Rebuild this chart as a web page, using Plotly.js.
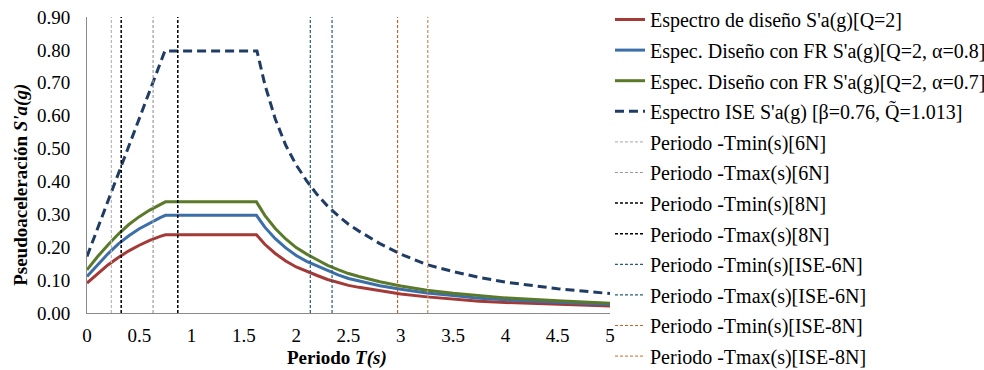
<!DOCTYPE html>
<html>
<head>
<meta charset="utf-8">
<script src="https://cdn.plot.ly/plotly-3.0.1.min.js"></script>
<style>html,body{margin:0;padding:0;background:#fff}#chart{width:984px;height:370px}</style>
</head>
<body>
<div id="chart"></div>
<script>
// Design spectra (periods in s, accelerations in g)
const T_design = [0,0.1,0.2,0.3,0.4,0.5,0.6,0.7,0.75,1.62,1.7,1.8,1.9,2.0,2.1,2.2,2.3,2.4,2.5,2.6,2.8,3.0,3.25,3.5,3.75,4.0,4.5,5.0];
const sa_Q2 = [0.091,0.119,0.146,0.169,0.189,0.206,0.221,0.233,0.238,0.238,0.209,0.181,0.158,0.140,0.126,0.114,0.102,0.093,0.084,0.078,0.067,0.058,0.049,0.042,0.036,0.032,0.026,0.021];
const sa_FR08 = [0.111,0.146,0.180,0.210,0.235,0.256,0.274,0.290,0.297,0.297,0.261,0.226,0.198,0.175,0.157,0.143,0.128,0.116,0.105,0.097,0.083,0.072,0.061,0.053,0.045,0.040,0.032,0.026];
const sa_FR07 = [0.131,0.171,0.207,0.240,0.269,0.293,0.313,0.330,0.338,0.338,0.297,0.257,0.225,0.199,0.179,0.162,0.145,0.132,0.120,0.111,0.095,0.082,0.069,0.060,0.052,0.046,0.037,0.030];
const T_ise = [0,0.745,1.625,1.7,1.8,1.9,2.0,2.1,2.2,2.3,2.4,2.5,2.6,2.8,3.0,3.25,3.5,3.75,4.0,4.5,5.0];
const sa_ISE = [0.172,0.797,0.797,0.695,0.590,0.510,0.450,0.402,0.360,0.325,0.296,0.270,0.249,0.211,0.179,0.147,0.126,0.108,0.094,0.074,0.059];

// Period markers
const periodNames = ["Periodo -Tmin(s)[6N]","Periodo -Tmax(s)[6N]","Periodo -Tmin(s)[8N]","Periodo -Tmax(s)[8N]",
  "Periodo -Tmin(s)[ISE-6N]","Periodo -Tmax(s)[ISE-6N]","Periodo -Tmin(s)[ISE-8N]","Periodo -Tmax(s)[ISE-8N]"];
const periodValues = [0.233,0.632,0.327,0.868,2.135,2.343,2.969,3.258];
const periodRange = [0,0.9];

const xTicks = [0,0.5,1,1.5,2,2.5,3,3.5,4,4.5,5];

const FONT = "'Liberation Serif', 'Times New Roman', serif";
const periodColors = ["#b8b8b8","#9a9a9a","#000000","#000000","#245f70","#245f70","#c0652a","#cf8a55"];
const periodWidths = [1.2,1.2,1.5,1.5,1.2,1.2,1.2,1.2];

const traces = [
  {x:T_design, y:sa_Q2, name:"Espectro de diseño S'a(g)[Q=2]", line:{color:"#a33a37", width:3}},
  {x:T_design, y:sa_FR08, name:"Espec. Diseño con FR S'a(g)[Q=2, α=0.8]", line:{color:"#3c6ea8", width:3}},
  {x:T_design, y:sa_FR07, name:"Espec. Diseño con FR S'a(g)[Q=2, α=0.7]", line:{color:"#5a7a2a", width:3}},
  {x:T_ise, y:sa_ISE, name:"Espectro ISE S'a(g) [β=0.76, Q\u0303=1.013]", line:{color:"#1f3c64", width:3, dash:"9px,5px"}}
];
periodValues.forEach((p,i)=>{
  traces.push({x:[p,p], y:periodRange, name:periodNames[i],
    line:{color:periodColors[i], width:periodWidths[i], dash:"3px,2px"}});
});
traces.forEach((t,i)=>{t.type="scatter"; t.mode="lines"; t.legendgroup="g"+i; t.hoverinfo="skip";});

const layout = {
  width:984, height:370,
  margin:{l:87, r:367, t:17, b:57},
  paper_bgcolor:"#fff", plot_bgcolor:"#fff",
  font:{family:FONT, size:19, color:"#000"},
  showlegend:true,
  legend:{xref:"container", yref:"container", x:0.6199, y:1, xanchor:"left", yanchor:"top",
    maxheight:370,
    font:{family:FONT, size:20, color:"#000"}, tracegroupgap:1.6, bgcolor:"rgba(0,0,0,0)"},
  xaxis:{range:[0,5], tickvals:xTicks, ticktext:xTicks.map(String), showgrid:false, zeroline:false,
    showline:true, linecolor:"#8a8a8a", linewidth:1, ticks:"", ticklabelstandoff:5,
    tickfont:{family:FONT, size:19, color:"#000"}},
  yaxis:{range:[0,0.9], dtick:0.1, tickformat:".2f", showgrid:false, zeroline:false,
    showline:true, linecolor:"#8a8a8a", linewidth:1, ticks:"", ticklabelstandoff:12,
    tickfont:{family:FONT, size:19, color:"#000"}},
  annotations:[
    {text:"<b>Pseudoaceleración <i>S'a(g)</i></b>", textangle:-90, xref:"paper", yref:"paper",
     x:-0.1264, y:0.4326, xanchor:"center", yanchor:"middle", showarrow:false,
     font:{family:FONT, size:19, color:"#000"}},
    {text:"<b>Periodo <i>T(s)</i></b>", xref:"paper", yref:"paper",
     x:0.4774, y:-0.152, xanchor:"center", yanchor:"middle", showarrow:false,
     font:{family:FONT, size:19, color:"#000"}}
  ]
};
Plotly.newPlot("chart", traces, layout, {staticPlot:true, displayModeBar:false});
</script>
</body>
</html>
